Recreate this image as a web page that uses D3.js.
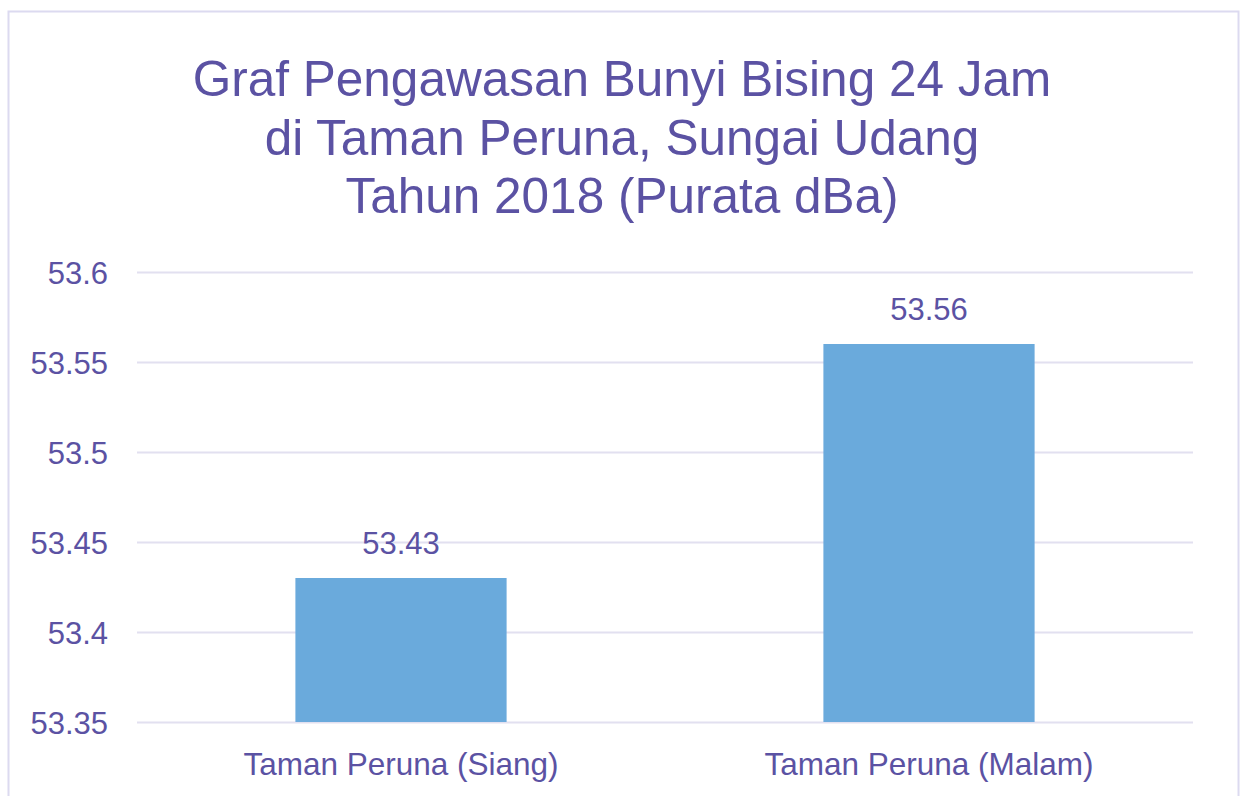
<!DOCTYPE html>
<html>
<head>
<meta charset="utf-8">
<script src="https://cdn.jsdelivr.net/npm/d3@7"></script>
<style>
  body { margin: 0; background: #ffffff; }
  text { font-family: "Liberation Sans", Arial, sans-serif; }
</style>
</head>
<body>
<div id="chart"></div>
<script>
// chart data
var categories = ["Taman Peruna (Siang)", "Taman Peruna (Malam)"];
var values = [53.43, 53.56];
var yTicks = [53.35, 53.4, 53.45, 53.5, 53.55, 53.6];
var titleLines = [
  "Graf Pengawasan Bunyi Bising 24 Jam",
  "di Taman Peruna, Sungai Udang",
  "Tahun 2018 (Purata dBa)"
];

var svgWidth = 1244;
var svgHeight = 796;

var margin = { top: 272, right: 51, bottom: 74, left: 137 };
var chartWidth = svgWidth - margin.left - margin.right;
var chartHeight = svgHeight - margin.top - margin.bottom;

var textColor = "#5b52a3";

var svg = d3.select("#chart")
  .append("svg")
  .attr("width", svgWidth)
  .attr("height", svgHeight);

// outer frame
svg.append("rect")
  .attr("x", 8.5)
  .attr("y", 11.5)
  .attr("width", 1230)
  .attr("height", 800)
  .attr("fill", "none")
  .attr("stroke", "#dcdaf0")
  .attr("stroke-width", 2);

// title
svg.append("g")
  .selectAll("text")
  .data(titleLines)
  .enter()
  .append("text")
  .attr("x", 622)
  .attr("y", (d, i) => 96 + i * 58.5)
  .attr("text-anchor", "middle")
  .attr("fill", textColor)
  .style("font-size", "49.5px")
  .text(d => d);

var chartGroup = svg.append("g")
  .attr("transform", `translate(${margin.left}, ${margin.top})`);

var xScale = d3.scaleBand()
  .domain(categories)
  .range([0, chartWidth])
  .paddingInner(0.6)
  .paddingOuter(0.3);

var yScale = d3.scaleLinear()
  .domain([53.35, 53.6])
  .range([chartHeight, 0]);

// gridlines
var leftAxis = d3.axisLeft(yScale)
  .tickValues(yTicks)
  .tickSize(-chartWidth)
  .tickPadding(29)
  .tickFormat(d3.format("~g"));

var yAxisGroup = chartGroup.append("g").call(leftAxis);
yAxisGroup.select(".domain").remove();
yAxisGroup.selectAll(".tick line")
  .attr("stroke", "#e2e0f0")
  .attr("stroke-width", 2);
yAxisGroup.selectAll(".tick text")
  .attr("fill", textColor)
  .attr("dy", "0.36em")
  .style("font-size", "31px");

// bars
chartGroup.selectAll("rect.bar")
  .data(values)
  .enter()
  .append("rect")
  .attr("class", "bar")
  .attr("x", (d, i) => xScale(categories[i]))
  .attr("y", d => yScale(d))
  .attr("width", xScale.bandwidth())
  .attr("height", d => chartHeight - yScale(d))
  .attr("fill", "#6aaadc");

// value labels
chartGroup.selectAll("text.value")
  .data(values)
  .enter()
  .append("text")
  .attr("class", "value")
  .attr("x", (d, i) => xScale(categories[i]) + xScale.bandwidth() / 2)
  .attr("y", d => yScale(d) - 24)
  .attr("text-anchor", "middle")
  .attr("fill", textColor)
  .style("font-size", "31px")
  .text(d => d.toFixed(2));

// category axis
var bottomAxis = d3.axisBottom(xScale).tickSize(0).tickPadding(31);
var xAxisGroup = chartGroup.append("g")
  .attr("transform", `translate(0, ${chartHeight})`)
  .call(bottomAxis);
xAxisGroup.select(".domain").remove();
xAxisGroup.selectAll(".tick text")
  .attr("fill", textColor)
  .style("font-size", "31.5px");
</script>
</body>
</html>
